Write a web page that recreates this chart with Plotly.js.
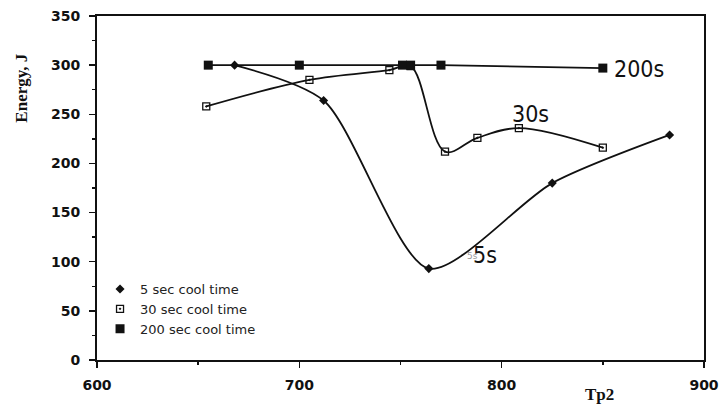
<!DOCTYPE html>
<html>
<head>
<meta charset="utf-8">
<script src="https://cdn.plot.ly/plotly-3.0.1.min.js"></script>
<style>
  html, body { margin: 0; padding: 0; background: #fff; }
  #chart { width: 720px; height: 406px; }
</style>
</head>
<body>
<div id="chart"></div>
<script>
// Impact energy versus Tp2 for three cooling times
const tp2_5s = [668, 712, 764, 825, 883];
const energy_5s = [300, 264, 93, 180, 229];

const tp2_30s = [654, 705, 744.5, 755, 772, 788, 808.5, 850];
const energy_30s = [258, 285, 295, 299, 212, 226, 236, 216];

const tp2_200s = [655, 700, 751, 755, 770, 850];
const energy_200s = [300, 300, 300, 300, 300, 297];

const seriesNames = ['5 sec cool time', '30 sec cool time', '200 sec cool time'];
const curveLabels = ['5s', '30s', '200s'];

const smoothings = [0.75, 1, 1];
const markerStyles = [
  { symbol: 'diamond', size: 7, color: '#111' },
  { symbol: 'square-open-dot', size: 7, color: '#111', line: { width: 1.3, color: '#111' } },
  { symbol: 'square', size: 9, color: '#111' }
];

const xs = [tp2_5s, tp2_30s, tp2_200s];
const ys = [energy_5s, energy_30s, energy_200s];

const traces = [];
// curves with their markers
for (let i = 0; i < 3; i++) {
  traces.push({
    x: xs[i], y: ys[i], type: 'scatter', mode: 'lines+markers',
    line: { color: '#111', width: 1.8, shape: 'spline', smoothing: smoothings[i] },
    marker: markerStyles[i], showlegend: false, hoverinfo: 'skip'
  });
}
// legend entries show only the symbol
for (let i = 0; i < 3; i++) {
  traces.push({
    x: [null], y: [null], type: 'scatter', mode: 'markers',
    name: seriesNames[i], marker: markerStyles[i], showlegend: true
  });
}

const tickFont = { family: 'DejaVu Sans', size: 14, color: '#111', weight: 'bold' };
const labelFont = { family: 'Liberation Sans Narrow, DejaVu Sans Condensed', size: 23, color: '#111' };
const titleFont = { family: 'Liberation Serif', size: 17, color: '#111', weight: 'bold' };

const layout = {
  width: 720, height: 406,
  margin: { l: 97, r: 16, t: 16, b: 46 },
  paper_bgcolor: '#fff', plot_bgcolor: '#fff',
  showlegend: true,
  legend: {
    x: 0.005, xanchor: 'left', y: 0.25, yanchor: 'top',
    font: { family: 'DejaVu Sans', size: 13, color: '#222' },
    bgcolor: 'rgba(0,0,0,0)', itemwidth: 30, tracegroupgap: 0
  },
  xaxis: {
    range: [600, 900], tickvals: [600, 700, 800, 900],
    ticks: 'outside', ticklen: 6, tickwidth: 1.5, tickcolor: '#111',
    minor: { tickvals: [650, 750, 850], ticks: 'outside', ticklen: 3, tickcolor: '#111' },
    showline: true, linecolor: '#111', linewidth: 2, mirror: true,
    showgrid: false, zeroline: false, tickfont: tickFont, ticklabelstandoff: 5
  },
  yaxis: {
    range: [0, 350], dtick: 50,
    ticks: 'outside', ticklen: 6, tickwidth: 1.5, tickcolor: '#111',
    minor: { dtick: 25, ticks: 'outside', ticklen: 3, tickcolor: '#111' },
    showline: true, linecolor: '#111', linewidth: 2, mirror: true,
    showgrid: false, zeroline: false, tickfont: tickFont, ticklabelstandoff: 6
  },
  annotations: [
    { text: 'Energy, J', xref: 'paper', yref: 'paper', x: -0.124, y: 0.791,
      xanchor: 'center', yanchor: 'middle', textangle: -90, showarrow: false, font: titleFont },
    { text: 'Tp2', xref: 'x', yref: 'paper', x: 848.5, y: -0.099,
      xanchor: 'center', yanchor: 'middle', showarrow: false, font: titleFont },
    { text: curveLabels[0], xref: 'x', yref: 'y', x: 785.5, y: 106,
      xanchor: 'center', yanchor: 'middle', showarrow: false,
      font: { family: 'DejaVu Sans', size: 9, color: '#999' } },
    { text: curveLabels[0], xref: 'x', yref: 'y', x: 791.6, y: 107,
      xanchor: 'center', yanchor: 'middle', showarrow: false, font: labelFont },
    { text: curveLabels[1], xref: 'x', yref: 'y', x: 814.3, y: 250.5,
      xanchor: 'center', yanchor: 'middle', showarrow: false, font: labelFont },
    { text: curveLabels[2], xref: 'x', yref: 'y', x: 868, y: 296,
      xanchor: 'center', yanchor: 'middle', showarrow: false, font: labelFont }
  ]
};

Plotly.newPlot('chart', traces, layout, { displayModeBar: false, staticPlot: true });
</script>
</body>
</html>
